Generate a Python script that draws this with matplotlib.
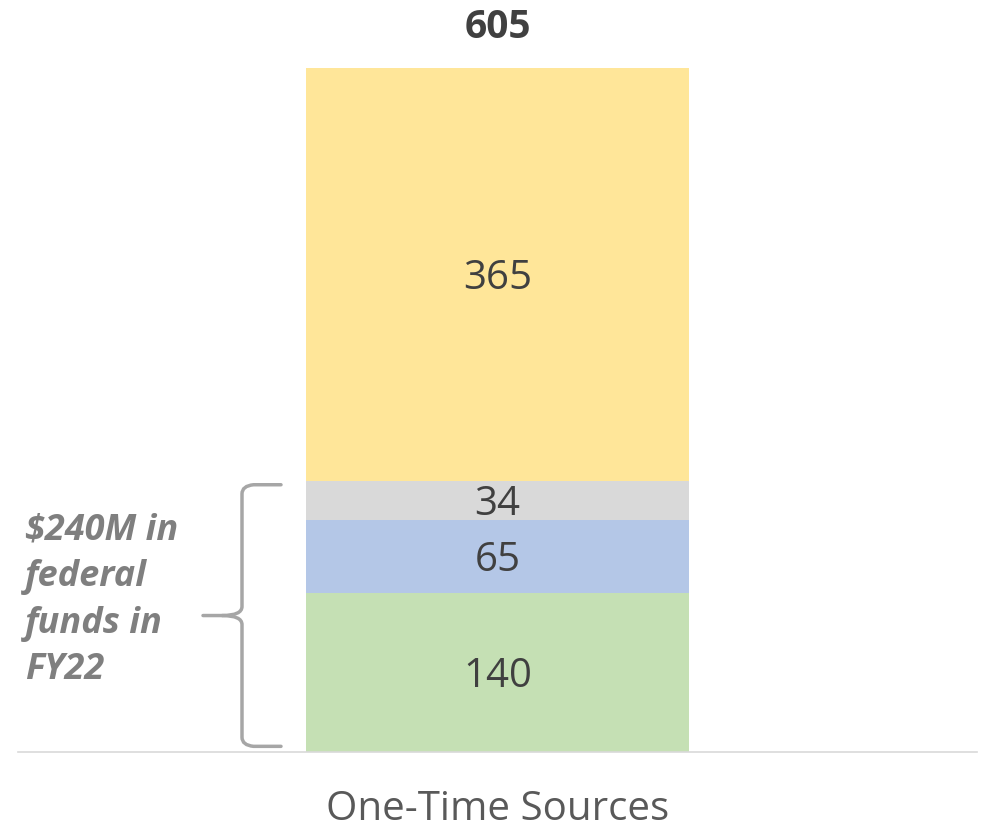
import matplotlib
matplotlib.use("Agg")
import matplotlib.pyplot as plt
from matplotlib.path import Path
from matplotlib.patches import PathPatch

category = "One-Time Sources"
segment_names = ["Federal A", "Federal B", "Federal C", "Other"]
segment_values = [140, 65, 34, 365]
segment_colors = ["#C5E0B4", "#B4C7E7", "#D9D9D9", "#FFE699"]
total_label = "605"
federal_note = "$240M in\nfederal\nfunds in\nFY22"

FONT = ["Open Sans", "DejaVu Sans"]
W, H = 986, 834
fig = plt.figure(figsize=(W / 100, H / 100), dpi=100)
fig.patch.set_facecolor("white")

ax = fig.add_axes([18 / W, 82 / H, 959 / W, 752 / H])
ax.set_xlim(-0.5, 0.5)
ymax = 752 / (684 / 604)
ax.set_ylim(0, ymax)

bottom = 0
for name, v, c in zip(segment_names, segment_values, segment_colors):
    ax.bar(0, v, width=0.4, bottom=bottom, color=c, edgecolor="none")
    ax.annotate(str(v), (0, bottom + v / 2), xytext=(0, -4), textcoords="offset pixels",
                ha="center", va="center", fontsize=29, color="#404040", family=FONT)
    bottom += v

fig.text(498 / W, 1 - 27 / H, total_label, ha="center", va="center", fontsize=28,
         fontweight="bold", color="#404040", family=FONT)

for s in ["top", "right", "left"]:
    ax.spines[s].set_visible(False)
ax.spines["bottom"].set_color("#D9D9D9")
ax.spines["bottom"].set_linewidth(1.2)
ax.set_yticks([])
ax.set_xticks([])

fig.text(498 / W, 1 - 810 / H, category, ha="center", va="center",
         fontsize=29, color="#595959", family=FONT)

# curly brace spanning federal segments
fed_top = sum(segment_values[:3])
y0, y1 = 5, fed_top - 3
ym = (y0 + y1) / 2
def px2x(px):
    return (px - 18) / 959 - 0.5
xr, xv, xl = px2x(281), px2x(242), px2x(203)
r = 8
verts = [
    (xr, y1), (xv + 0.012, y1), (xv, y1 - 1), (xv, y1 - r),
    (xv, ym + r), (xv, ym), (xl + 0.02, ym), (xl, ym),
]
codes = [Path.MOVETO, Path.LINETO, Path.CURVE3, Path.CURVE3,
         Path.LINETO, Path.CURVE3, Path.CURVE3, Path.LINETO]
ax.add_patch(PathPatch(Path(verts, codes), fill=False, edgecolor="#A6A6A6",
                       lw=2.5, capstyle="round", clip_on=False))
verts2 = [
    (xr, y0), (xv + 0.012, y0), (xv, y0 + 1), (xv, y0 + r),
    (xv, ym - r), (xv, ym), (xl + 0.02, ym),
]
codes2 = [Path.MOVETO, Path.LINETO, Path.CURVE3, Path.CURVE3,
          Path.LINETO, Path.CURVE3, Path.CURVE3]
ax.add_patch(PathPatch(Path(verts2, codes2), fill=False, edgecolor="#A6A6A6",
                       lw=2.5, capstyle="round", clip_on=False))

fig.text(25 / W, 1 - 512 / H, federal_note, ha="left", va="top",
         fontsize=26, fontstyle="italic", fontweight="bold", color="#7F7F7F",
         linespacing=1.4, family=FONT)

fig.savefig("out.png", dpi=100)
